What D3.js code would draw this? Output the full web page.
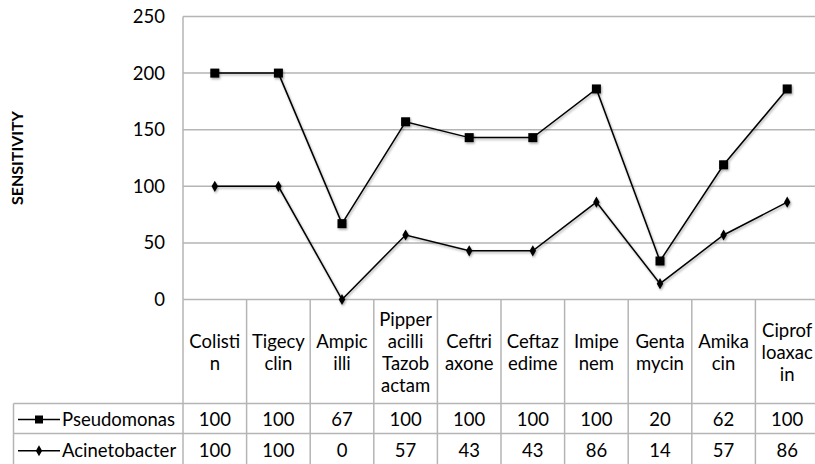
<!DOCTYPE html>
<html><head><meta charset="utf-8">
<script src="https://cdn.jsdelivr.net/npm/d3@7"></script>
<style>body{margin:0;background:#fff}svg{display:block}text{font-family:Lato,"Open Sans",sans-serif;fill:#000}</style>
</head><body>
<svg id="c" width="815" height="464"></svg>
<script>
const categories = ["Colistin","Tigecyclin","Ampicilli","Pipperacilli Tazobactam","Ceftriaxone","Ceftazedime","Imipenem","Gentamycin","Amikacin","Ciprofloaxacin"];
const categoryLines = [["Colisti","n"],["Tigecy","clin"],["Ampic","illi"],["Pipper","acilli","Tazob","actam"],["Ceftri","axone"],["Ceftaz","edime"],["Imipe","nem"],["Genta","mycin"],["Amika","cin"],["Ciprof","loaxac","in"]];
const pseudomonas = [100,100,67,100,100,100,100,20,62,100];
const acinetobacter = [100,100,0,57,43,43,86,14,57,86];
const yTicks = [0,50,100,150,200,250];
const seriesNames = ["Pseudomonas","Acinetobacter"];

const svg = d3.select("#c");
const FS = 18.5;
const pLeft = 183, pRight = 819, pTop = 16.5, pBottom = 299.5;
const x = d3.scaleBand().domain(categories).range([pLeft,pRight]);
const y = d3.scaleLinear().domain([0,250]).range([pBottom,pTop]);
const grid = "#b5b5b5";

// stacked (Excel stacked line): Acinetobacter bottom, Pseudomonas on top
const rows = categories.map((c,i)=>({cat:c, Acinetobacter:acinetobacter[i], Pseudomonas:pseudomonas[i]}));
const stack = d3.stack().keys(["Acinetobacter","Pseudomonas"])(rows);

svg.append("g").selectAll("line").data(yTicks).join("line")
  .attr("x1",pLeft).attr("x2",815).attr("y1",d=>y(d)).attr("y2",d=>y(d))
  .attr("stroke",grid).attr("stroke-width",1.5);
svg.append("line").attr("x1",pLeft).attr("x2",pLeft).attr("y1",pTop).attr("y2",pBottom).attr("stroke",grid).attr("stroke-width",1.5);
svg.append("g").selectAll("text").data(yTicks).join("text")
  .attr("x",165).attr("y",d=>y(d)).attr("dy","0.35em").attr("text-anchor","end")
  .style("font-size",FS+"px").text(d=>d);
svg.append("text").attr("transform","translate(23,158) rotate(-90)").attr("text-anchor","middle")
  .style("font-size","16px").style("font-weight","bold").text("SENSITIVITY");

const hdrBottom = 403.5, row1Bottom = 433.5, tblLeft = 13.5;
const tb = svg.append("g").attr("stroke",grid).attr("stroke-width",1.5);
const bounds = categories.map(c=>x(c)).concat([pRight]);
tb.selectAll("line.v").data(bounds).join("line").attr("class","v")
  .attr("x1",d=>d).attr("x2",d=>d).attr("y1",pBottom).attr("y2",464);
tb.append("line").attr("x1",tblLeft).attr("x2",tblLeft).attr("y1",hdrBottom).attr("y2",464);
tb.append("line").attr("x1",tblLeft).attr("x2",815).attr("y1",hdrBottom).attr("y2",hdrBottom);
tb.append("line").attr("x1",tblLeft).attr("x2",815).attr("y1",row1Bottom).attr("y2",row1Bottom);

const hdr = svg.append("g");
categories.forEach((c,i)=>{
  const lines = categoryLines[i], lh = 22;
  const cy = (pBottom+hdrBottom)/2 + 1;
  const t = hdr.append("text").attr("text-anchor","middle").style("font-size",FS+"px");
  lines.forEach((l,j)=>{
    t.append("tspan").attr("x",x(c)+x.bandwidth()/2)
     .attr("y",cy + (j-(lines.length-1)/2)*lh).attr("dy","0.35em").text(l);
  });
});

const rowData = [pseudomonas, acinetobacter];
const rowY = [(hdrBottom+row1Bottom)/2+1, (row1Bottom+464)/2+2];
rowData.forEach((arr,r)=>{
  svg.append("g").selectAll("text").data(arr).join("text")
    .attr("x",(d,i)=>x(categories[i])+x.bandwidth()/2).attr("y",rowY[r]).attr("dy","0.35em")
    .attr("text-anchor","middle").style("font-size",FS+"px").text(d=>d);
  svg.append("text").attr("x",62).attr("y",rowY[r]).attr("dy","0.35em").style("font-size",FS+"px").text(seriesNames[r]);
  svg.append("line").attr("x1",18).attr("x2",60).attr("y1",rowY[r]).attr("y2",rowY[r]).attr("stroke","#000").attr("stroke-width",1.3);
});
svg.append("rect").attr("x",39-4).attr("y",rowY[0]-4).attr("width",8).attr("height",8).attr("fill","#000");
svg.append("path").attr("d",d3.symbol(d3.symbolDiamond,34)()).attr("transform",`translate(39,${rowY[1]})`).attr("fill","#000");

const defs = svg.append("defs");
defs.append("filter").attr("id","sh").attr("x","-20%").attr("y","-20%").attr("width","140%").attr("height","140%")
  .html('<feDropShadow dx="1" dy="1.5" stdDeviation="1" flood-color="#000" flood-opacity="0.35"/>');
const cx = i=>x(categories[i])+x.bandwidth()/2;
const line = d3.line().x((d,i)=>cx(i)).y(d=>y(d[1]));
const g = svg.append("g").attr("filter","url(#sh)");
stack.forEach(s=>{
  g.append("path").datum(s).attr("d",line).attr("fill","none").attr("stroke","#000").attr("stroke-width",1.5);
});
g.append("g").selectAll("path").data(stack[0]).join("path")
  .attr("d",d3.symbol(d3.symbolDiamond,36)()).attr("transform",(d,i)=>`translate(${cx(i)},${y(d[1])})`).attr("fill","#000");
g.append("g").selectAll("rect").data(stack[1]).join("rect")
  .attr("x",(d,i)=>cx(i)-4.5).attr("y",d=>y(d[1])-4.5).attr("width",9).attr("height",9).attr("fill","#000");
</script>
</body></html>
